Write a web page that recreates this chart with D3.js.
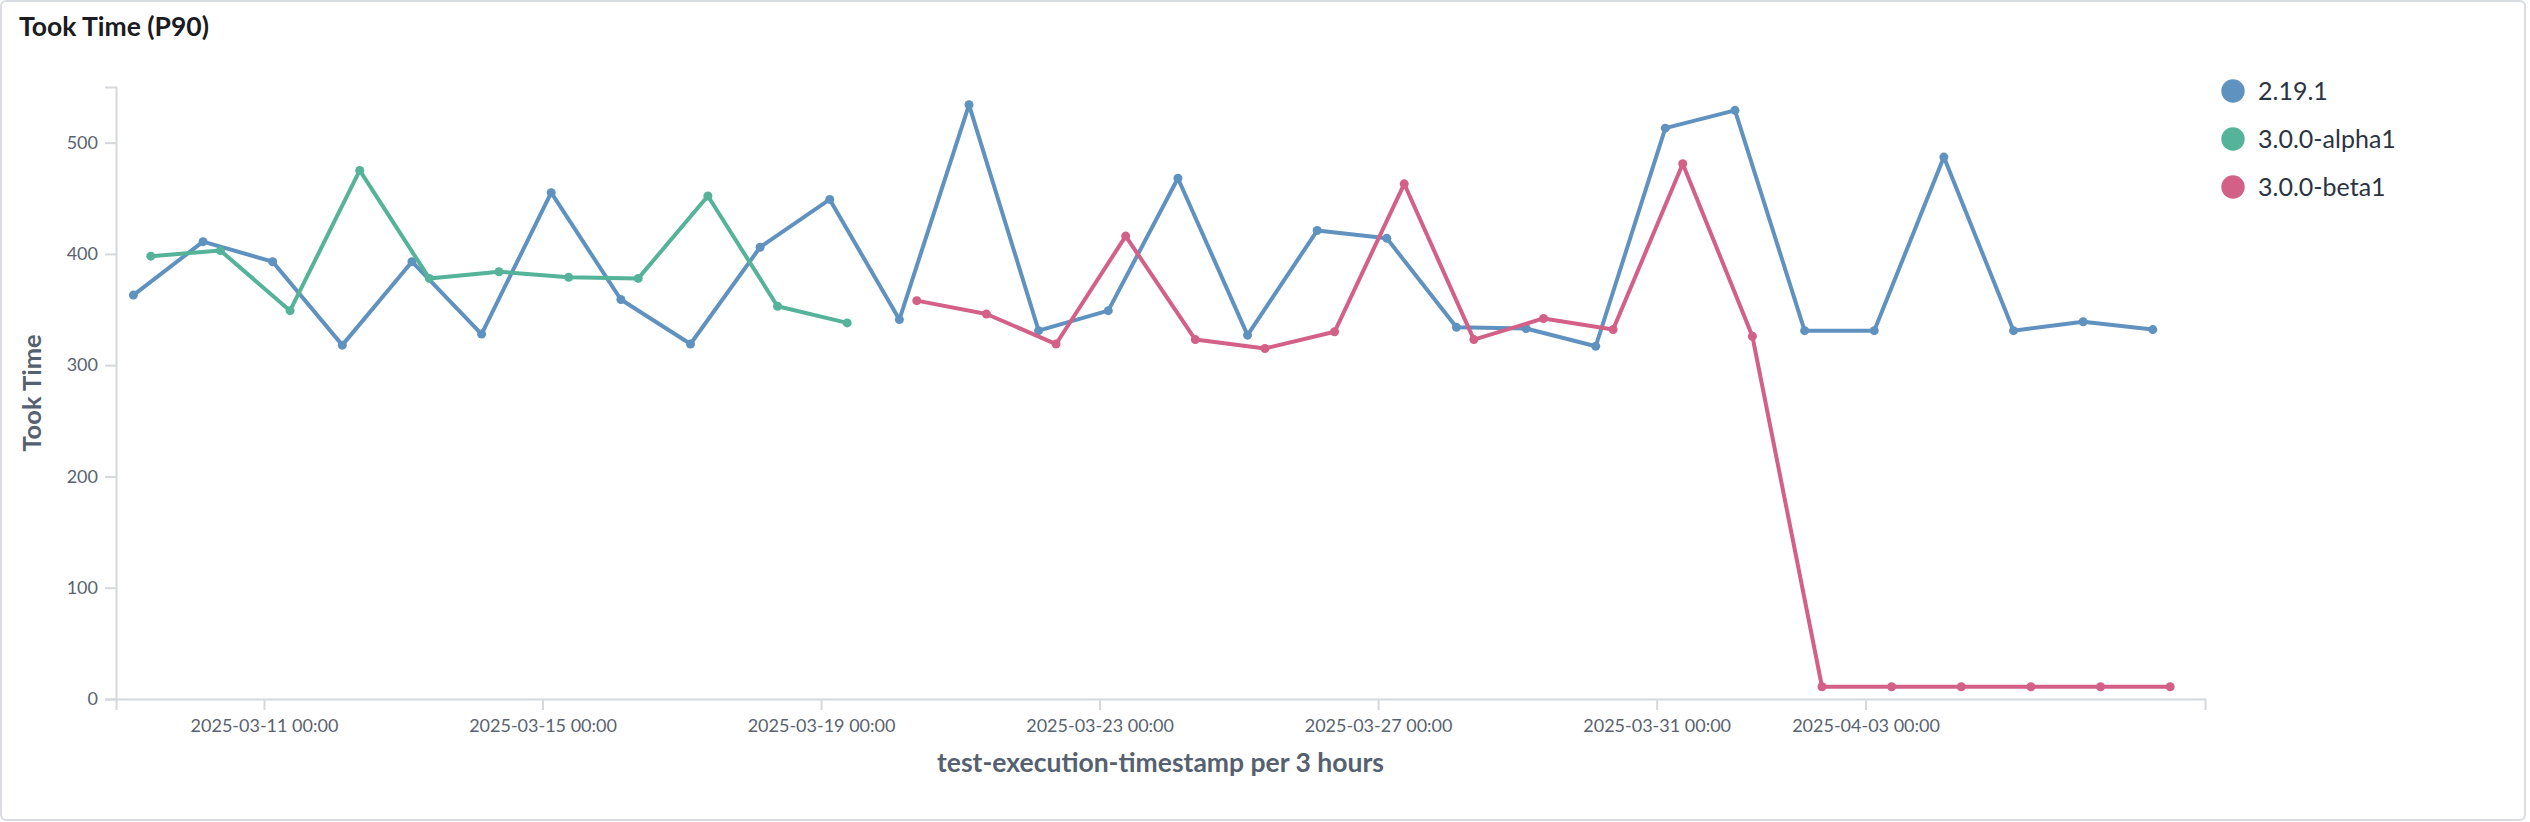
<!DOCTYPE html>
<html>
<head>
<meta charset="utf-8">
<script src="https://cdn.jsdelivr.net/npm/d3@7"></script>
<style>
  body { margin: 0; background: #fff; }
  svg { display: block; }
  text { font-family: Lato, sans-serif; }
</style>
</head>
<body>
<div id="chart"></div>
<script>
// data
const seriesNames = ['2.19.1', '3.0.0-alpha1', '3.0.0-beta1'];
const colors = ['#6092C0', '#54B399', '#D36086'];

const datesA = [
  '2025-03-09T03:00', '2025-03-10T03:00', '2025-03-11T03:00', '2025-03-12T03:00', '2025-03-13T03:00',
  '2025-03-14T03:00', '2025-03-15T03:00', '2025-03-16T03:00', '2025-03-17T03:00', '2025-03-18T03:00',
  '2025-03-19T03:00', '2025-03-20T03:00', '2025-03-21T03:00', '2025-03-22T03:00', '2025-03-23T03:00',
  '2025-03-24T03:00', '2025-03-25T03:00', '2025-03-26T03:00', '2025-03-27T03:00', '2025-03-28T03:00',
  '2025-03-29T03:00', '2025-03-30T03:00', '2025-03-31T03:00', '2025-04-01T03:00', '2025-04-02T03:00',
  '2025-04-03T03:00', '2025-04-04T03:00', '2025-04-05T03:00', '2025-04-06T03:00', '2025-04-07T03:00'
];
const valuesA = [363, 411, 393, 318, 393, 328, 455, 359, 319, 406,
                 449, 341, 534, 331, 349, 468, 327, 421, 414, 334,
                 333, 317, 513, 529, 331, 331, 487, 331, 339, 332];

const datesB = [
  '2025-03-09T09:00', '2025-03-10T09:00', '2025-03-11T09:00', '2025-03-12T09:00', '2025-03-13T09:00',
  '2025-03-14T09:00', '2025-03-15T09:00', '2025-03-16T09:00', '2025-03-17T09:00', '2025-03-18T09:00',
  '2025-03-19T09:00'
];
const valuesB = [398, 403, 349, 475, 378, 384, 379, 378, 452, 353, 338];

const datesC = [
  '2025-03-20T09:00', '2025-03-21T09:00', '2025-03-22T09:00', '2025-03-23T09:00', '2025-03-24T09:00',
  '2025-03-25T09:00', '2025-03-26T09:00', '2025-03-27T09:00', '2025-03-28T09:00', '2025-03-29T09:00',
  '2025-03-30T09:00', '2025-03-31T09:00', '2025-04-01T09:00', '2025-04-02T09:00', '2025-04-03T09:00',
  '2025-04-04T09:00', '2025-04-05T09:00', '2025-04-06T09:00', '2025-04-07T09:00'
];
const valuesC = [358, 346, 319, 416, 323, 315, 330, 463, 323, 342,
                 332, 481, 326, 11, 11, 11, 11, 11, 11];

const xTicks = ['2025-03-11T00:00', '2025-03-15T00:00', '2025-03-19T00:00', '2025-03-23T00:00',
                '2025-03-27T00:00', '2025-03-31T00:00', '2025-04-03T00:00'];
const yTicks = [0, 100, 200, 300, 400, 500];
const xDomain = ['2025-03-08T21:00', '2025-04-07T21:00'];
const yDomain = [0, 550];

const parse = d3.utcParse('%Y-%m-%dT%H:%M');
const series = [
  {name: seriesNames[0], color: colors[0], dates: datesA, values: valuesA},
  {name: seriesNames[1], color: colors[1], dates: datesB, values: valuesB},
  {name: seriesNames[2], color: colors[2], dates: datesC, values: valuesC}
].map(s => ({...s, points: s.dates.map((d, i) => ({t: parse(d), v: s.values[i]}))}));

const width = 2530, height = 822;
const margin = {top: 87, right: 325, bottom: 123, left: 116};

const svg = d3.select('#chart')
  .append('svg')
  .attr('width', width)
  .attr('height', height);

// panel card
svg.append('rect')
  .attr('x', 1).attr('y', 1)
  .attr('width', 2524).attr('height', 819)
  .attr('rx', 5)
  .attr('fill', '#fff')
  .attr('stroke', '#d9dce1')
  .attr('stroke-width', 2);

svg.append('text')
  .attr('x', 19).attr('y', 36)
  .attr('fill', '#1a1c21')
  .style('font-size', '26.5px')
  .style('font-weight', 700)
  .text('Took Time (P90)');

const x = d3.scaleUtc()
  .domain(xDomain.map(parse))
  .range([margin.left, width - margin.right]);
const y = d3.scaleLinear()
  .domain(yDomain)
  .range([height - margin.bottom, margin.top]);

// axes
const xAxisGroup = svg.append('g')
  .attr('transform', `translate(0,${height - margin.bottom})`)
  .call(d3.axisBottom(x)
    .tickValues(xTicks.map(parse))
    .tickFormat(d3.utcFormat('%Y-%m-%d %H:%M'))
    .tickSize(11)
    .tickPadding(9));
const yAxisGroup = svg.append('g')
  .attr('transform', `translate(${margin.left},0)`)
  .call(d3.axisLeft(y)
    .tickValues(yTicks)
    .tickSize(11)
    .tickPadding(7));

[xAxisGroup, yAxisGroup].forEach(g => {
  g.selectAll('path, line')
    .attr('stroke', '#d5d8dd')
    .attr('stroke-width', 2);
  g.selectAll('text')
    .attr('fill', '#59636f')
    .style('font-size', '18px')
    .style('font-family', 'Lato, sans-serif');
});

// axis titles
svg.append('text')
  .attr('transform', `translate(41,${(margin.top + height - margin.bottom) / 2}) rotate(-90)`)
  .attr('text-anchor', 'middle')
  .attr('fill', '#556170')
  .style('font-size', '25.5px')
  .style('font-weight', 700)
  .text('Took Time');

svg.append('text')
  .attr('x', (margin.left + width - margin.right) / 2)
  .attr('y', 772)
  .attr('text-anchor', 'middle')
  .attr('fill', '#556170')
  .style('font-size', '26.5px')
  .style('font-weight', 700)
  .text('test-execution-timestamp per 3 hours');

// lines and points
const line = d3.line()
  .x(d => x(d.t))
  .y(d => y(d.v));

const groups = svg.selectAll('g.series')
  .data(series)
  .enter()
  .append('g')
  .attr('class', 'series');

groups.append('path')
  .attr('d', d => line(d.points))
  .attr('fill', 'none')
  .attr('stroke', d => d.color)
  .attr('stroke-width', 4)
  .attr('stroke-linejoin', 'round');

groups.each(function(s) {
  d3.select(this).selectAll('circle')
    .data(s.points)
    .enter()
    .append('circle')
    .attr('cx', d => x(d.t))
    .attr('cy', d => y(d.v))
    .attr('r', 4.5)
    .attr('fill', s.color);
});

// legend
const legend = svg.append('g')
  .attr('transform', 'translate(2233,91)');
const items = legend.selectAll('g')
  .data(series)
  .enter()
  .append('g')
  .attr('transform', (d, i) => `translate(0,${i * 48})`);
items.append('circle')
  .attr('r', 11.7)
  .attr('fill', d => d.color);
items.append('text')
  .attr('x', 25)
  .attr('y', 9)
  .attr('fill', '#2b3442')
  .style('font-size', '25px')
  .text(d => d.name);
</script>
</body>
</html>
